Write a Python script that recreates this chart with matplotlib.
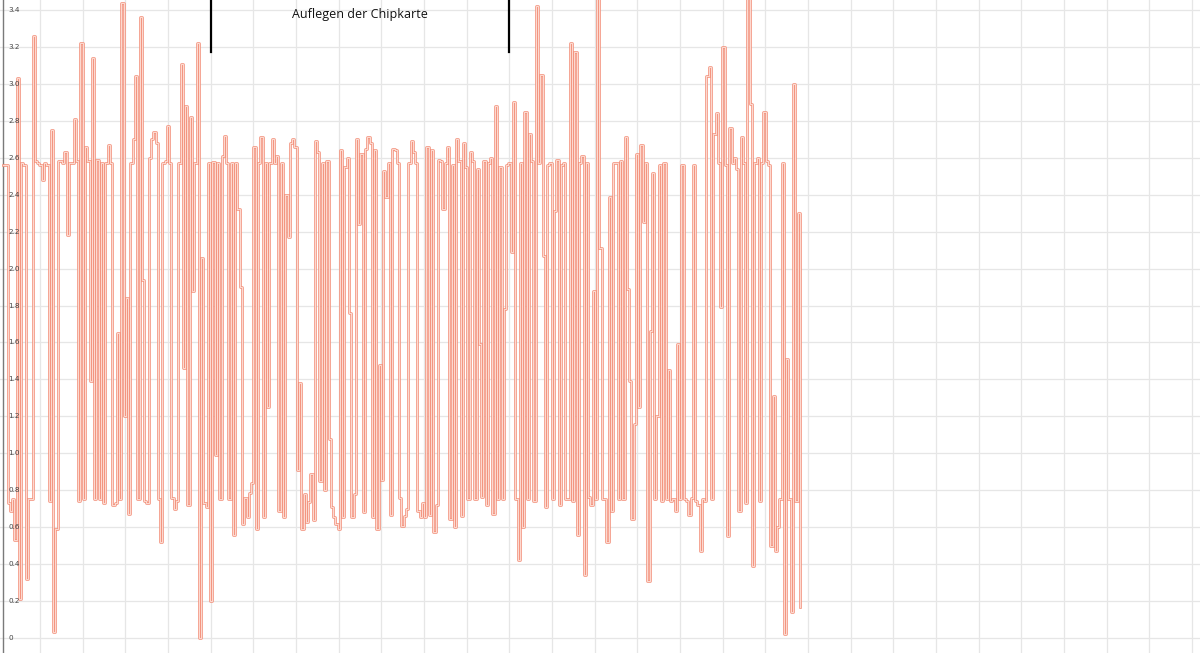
import numpy as np
import matplotlib.pyplot as plt
import matplotlib.patheffects as pe
from matplotlib.ticker import MultipleLocator
import matplotlib.transforms as mtransforms

# sensor voltage samples (V), left to right
part1 = [2.56, 2.56, 0.73, 0.69, 0.75, 0.53, 3.03, 0.21, 2.57, 2.56, 0.32, 0.75, 0.75, 3.26,
         2.58, 2.57, 2.56, 2.48, 2.57, 2.56, 0.74, 2.75, 0.03, 0.59, 2.58, 2.585, 2.57, 2.63,
         2.18, 2.57, 2.57, 2.81, 2.58, 0.74, 3.22, 0.75, 2.66, 2.58, 1.39, 3.14, 0.75, 2.59,
         0.75, 2.57, 0.73, 2.57, 2.67, 2.57, 0.72, 0.73, 1.65, 0.75, 3.44, 1.20, 1.84, 0.67,
         2.57, 2.70, 3.04, 0.75, 3.36, 1.94, 0.74, 0.73, 2.60, 2.70, 2.74, 2.68, 0.75, 0.52,
         2.57, 2.58, 2.77, 2.57, 0.76, 0.70, 0.74, 2.57, 3.11, 1.46, 2.88, 0.72, 2.82, 1.88,
         2.57, 3.22, 0.00, 2.06, 0.73, 0.71, 2.57, 0.20, 2.575, 0.99, 2.57, 0.75, 2.61, 2.72, 2.57]
part2 = [0.75, 2.57, 0.56, 2.57, 2.32, 1.90, 0.62, 0.76, 0.655, 0.785, 0.84, 2.66, 0.59, 2.57,
         2.71, 0.655, 2.57, 1.25, 2.57, 2.70, 2.57, 2.61, 0.69, 2.57, 0.655, 2.40, 2.17, 2.68,
         2.70, 2.66, 0.91, 1.38, 0.59, 0.78, 0.63, 0.735, 0.89, 0.64, 2.69, 2.63, 0.85, 2.57,
         0.80, 2.58, 1.08, 0.71, 0.655, 0.62, 0.59, 2.64, 0.655, 2.55, 2.60, 1.76, 0.655, 0.78,
         2.70, 2.24, 2.62, 0.68, 2.65, 2.71, 2.68, 0.655, 2.64, 0.59, 1.48, 0.855, 2.53, 2.39,
         2.57, 0.665, 2.65, 2.64, 2.57, 0.76, 0.605, 0.66, 0.70, 2.57, 2.69, 2.63, 2.57, 0.69,
         0.655, 0.73, 0.655, 2.66]
part3 = [0.665, 2.64, 0.575, 0.72, 2.59, 2.58, 2.32, 2.57, 2.66, 0.645, 2.56, 0.60, 2.70, 2.58,
         0.66, 2.68, 2.55, 0.75, 2.63, 2.58, 0.755, 2.54, 1.59, 0.765, 2.58, 0.72, 2.57, 2.60,
         0.67, 2.88, 0.755, 2.55, 0.755, 1.78, 2.56, 2.57, 2.09, 2.90, 0.755, 0.42, 2.57, 0.60,
         2.85, 0.755, 2.73, 2.58, 0.74, 3.42, 2.57, 3.05, 2.07, 0.71, 2.56, 2.57, 0.755, 2.31,
         2.59, 0.72, 2.56, 2.57, 0.755, 0.755, 3.22, 0.74, 3.17, 0.556, 2.57, 2.61, 0.34, 2.57,
         0.765, 0.72, 1.88, 0.755, 3.50, 2.11, 0.755, 0.755, 0.52, 2.39, 0.69, 2.57, 2.57, 0.755,
         2.58, 0.755, 2.71, 1.89, 1.39, 0.645]
part4 = [1.16, 2.62, 1.25, 2.67, 2.25, 2.57, 0.31, 1.66, 2.52, 0.755, 1.20, 2.56, 0.74, 2.57,
         0.755, 1.45, 0.74, 0.75, 0.69, 1.59, 0.755, 2.56, 0.755, 0.74, 0.665, 0.76, 2.56, 0.74,
         0.72, 0.47, 0.755, 0.74, 3.04, 3.09, 0.755, 2.73, 2.84, 2.57, 1.79, 3.20, 2.56, 0.55,
         2.76, 2.57, 2.60, 2.54, 0.69, 2.71, 2.57, 0.73, 3.50, 2.89, 0.39, 2.57, 2.60, 0.74,
         2.57, 2.85, 2.58, 2.56, 0.50, 1.31, 0.47, 0.60, 0.755, 2.57, 0.02, 1.51, 0.755, 0.14,
         3.00, 0.74, 2.30, 0.17]

t_start, t_end = 0.133, 18.81   # seconds
events = [5, 12]                 # card placed / removed
event_label = "Auflegen der Chipkarte"
ytick_vals = [round(0.2 * i, 1) for i in range(18)]

voltage = np.array(part1 + part2 + part3 + part4)
t = np.linspace(t_start, t_end, len(voltage))

fig = plt.figure(figsize=(12, 6.53), dpi=100)
ax = fig.add_axes([0, 0, 1, 1])

ax.step(t, voltage, where='post', color='#fddcd3', lw=0.7, zorder=3,
        path_effects=[pe.Stroke(linewidth=1.9, foreground='#f39580'), pe.Normal()])

ax.set_xlim(0.0625, 28.19)
ax.set_ylim(-0.081, 3.454)
ax.xaxis.set_major_locator(MultipleLocator(1))
ax.set_yticks(ytick_vals)
ax.grid(True, color='#e6e6e6', lw=0.9, zorder=0)
ax.tick_params(length=0, labelbottom=False, labelleft=False)
for s in ax.spines.values():
    s.set_visible(False)
ax.axvline(t_start, color='#7a7a7a', lw=1, zorder=2)

trans = mtransforms.blended_transform_factory(ax.transAxes, ax.transData)
for v in ytick_vals:
    lab = "0" if v == 0 else f"{v:.1f}"
    ax.text(0.0068, v, lab, transform=trans, ha='left', va='center',
            fontsize=5.2, color='#444444', zorder=4)

for e in events:
    ax.plot([e, e], [3.17, 3.6], color='black', lw=1.6, zorder=5)
ax.text(np.mean(events), 3.375, event_label, ha='center', va='center',
        fontsize=9, family='Open Sans', color='#111111', zorder=5)

fig.savefig("out.png", dpi=100)
